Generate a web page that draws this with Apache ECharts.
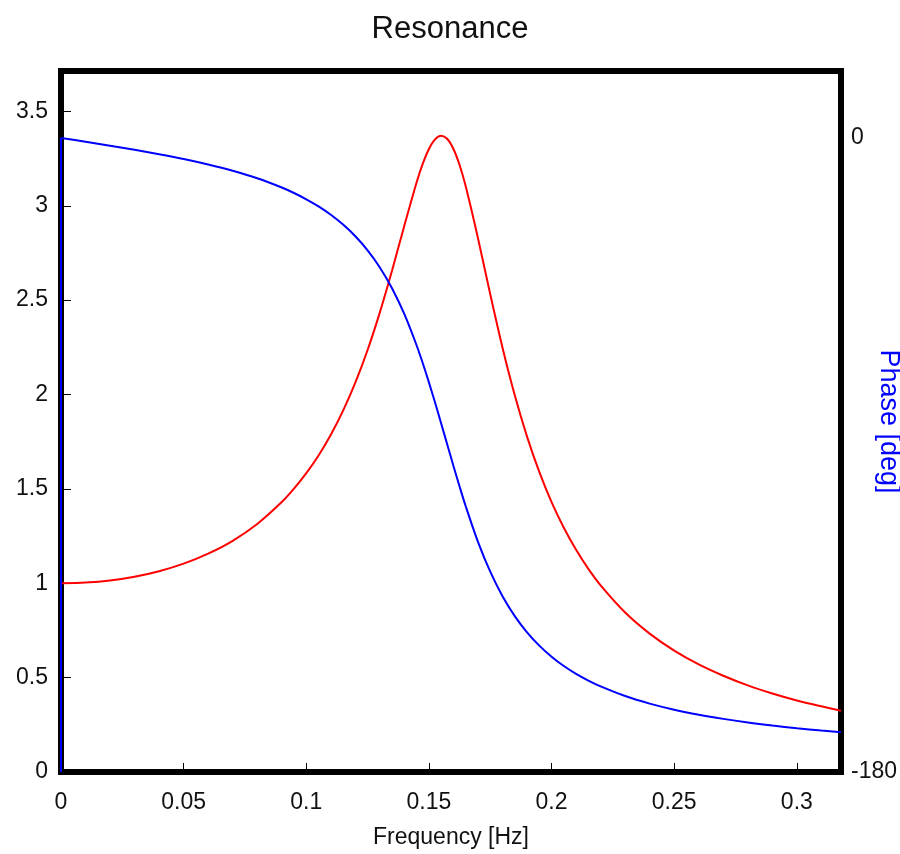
<!DOCTYPE html>
<html>
<head>
<meta charset="utf-8">
<script src="https://cdn.jsdelivr.net/npm/echarts@6/dist/echarts.min.js"></script>
<style>
  html, body { margin: 0; padding: 0; background: #fff; }
  #chart { width: 900px; height: 854px; }
</style>
</head>
<body>
<div id="chart"></div>
<script>
// Frequency samples [Hz]
const freq = [0, 0.01, 0.02, 0.03, 0.04, 0.05, 0.06, 0.07, 0.08, 0.09, 0.095, 0.10, 0.105, 0.11, 0.115, 0.12, 0.125, 0.13, 0.135, 0.14, 0.145, 0.1475, 0.15, 0.1525, 0.155, 0.1575, 0.16, 0.1625, 0.165, 0.17, 0.175, 0.18, 0.185, 0.19, 0.195, 0.20, 0.205, 0.21, 0.215, 0.22, 0.23, 0.24, 0.25, 0.26, 0.27, 0.28, 0.29, 0.30, 0.31, 0.318];
// Amplitude (left axis), red
const amplitude = [1, 1.004, 1.015, 1.035, 1.064, 1.104, 1.157, 1.225, 1.314, 1.430, 1.501, 1.583, 1.677, 1.787, 1.915, 2.063, 2.236, 2.435, 2.658, 2.896, 3.125, 3.223, 3.301, 3.352, 3.371, 3.354, 3.301, 3.216, 3.103, 2.828, 2.531, 2.248, 1.996, 1.777, 1.590, 1.430, 1.294, 1.177, 1.076, 0.989, 0.845, 0.733, 0.643, 0.570, 0.510, 0.459, 0.416, 0.379, 0.348, 0.325];
// Phase [deg] (right axis), blue
const phase = [0, -1.09, -2.20, -3.37, -4.62, -5.99, -7.54, -9.33, -11.46, -14.08, -15.64, -17.41, -19.44, -21.81, -24.60, -27.91, -31.90, -36.76, -42.72, -50.04, -58.92, -63.97, -69.39, -75.12, -81.06, -87.10, -93.11, -98.97, -104.55, -114.65, -123.14, -130.09, -135.74, -140.35, -144.13, -147.27, -149.91, -152.14, -154.05, -155.71, -158.44, -160.58, -162.31, -163.73, -164.92, -165.94, -166.81, -167.57, -168.24, -168.72];
// Phase jump drawn at f = 0 (vertical blue segment along the left edge)
const jumpFreq = [0, 0];
const jumpPhase = [-180, 0];

// Tick labels
const xTicks = [0, 0.05, 0.1, 0.15, 0.2, 0.25, 0.3];
const yLeftTicks = [0, 0.5, 1, 1.5, 2, 2.5, 3, 3.5];
const yRightTicks = [-180, 0];

const ampData = freq.map((f, i) => [f, amplitude[i]]);
const phaseData = freq.map((f, i) => [f, phase[i]]);
const jumpData = jumpFreq.map((f, i) => [f, jumpPhase[i]]);

const FONT = 'Liberation Sans, Arial, Helvetica, sans-serif';
const chart = echarts.init(document.getElementById('chart'), null, { renderer: 'canvas' });

chart.setOption({
  animation: false,
  backgroundColor: '#ffffff',
  title: {
    text: 'Resonance',
    left: 'center',
    top: 9,
    textStyle: { fontFamily: FONT, fontSize: 31, fontWeight: 'normal', color: '#111' }
  },
  grid: {
    left: 61, right: 59, top: 71, bottom: 82,
    outerBoundsMode: 'none',
    containLabel: false,
    show: true,
    borderColor: '#000',
    borderWidth: 6,
    backgroundColor: '#fff'
  },
  xAxis: {
    type: 'value',
    min: 0,
    max: 0.318,
    interval: 0.05,
    name: 'Frequency [Hz]',
    nameLocation: 'middle',
    nameGap: 54,
    nameMoveOverlap: false,
    nameTextStyle: { fontFamily: FONT, fontSize: 23, color: '#111' },
    axisLine: { show: false },
    splitLine: { show: false },
    axisTick: { show: true, inside: true, length: 9, lineStyle: { color: '#000', width: 1 }, customValues: xTicks },
    axisLabel: { fontFamily: FONT, fontSize: 23, color: '#111', margin: 19, customValues: xTicks,
      formatter: v => String(+v.toFixed(2)) }
  },
  yAxis: [
    {
      type: 'value',
      position: 'left',
      min: 0,
      max: 3.714,
      interval: 0.5,
      axisLine: { show: false },
      splitLine: { show: false },
      axisTick: { show: true, inside: true, length: 10, lineStyle: { color: '#000', width: 1 }, customValues: yLeftTicks },
      axisLabel: { fontFamily: FONT, fontSize: 23, color: '#111', margin: 13, customValues: yLeftTicks,
        formatter: v => String(+v.toFixed(1)) }
    },
    {
      type: 'value',
      position: 'right',
      min: -180,
      max: 19,
      interval: 180,
      name: 'Phase [deg]',
      nameLocation: 'middle',
      nameRotate: -90,
      nameGap: 34,
      nameMoveOverlap: false,
      nameTextStyle: { fontFamily: FONT, fontSize: 27, color: '#0000ff' },
      axisLine: { show: false },
      splitLine: { show: false },
      axisTick: { show: false },
      axisLabel: { fontFamily: FONT, fontSize: 23, color: '#111', margin: 10, customValues: yRightTicks }
    }
  ],
  series: [
    {
      type: 'line',
      name: 'Amplitude',
      xAxisIndex: 0,
      yAxisIndex: 0,
      data: ampData,
      showSymbol: false,
      symbol: 'none',
      smooth: 0.3,
      lineStyle: { color: '#ff0000', width: 2 },
      z: 3
    },
    {
      type: 'line',
      name: 'Phase',
      xAxisIndex: 0,
      yAxisIndex: 1,
      data: phaseData,
      showSymbol: false,
      symbol: 'none',
      smooth: 0.3,
      lineStyle: { color: '#0000ff', width: 2 },
      z: 4
    },
    {
      type: 'line',
      name: 'PhaseJump',
      xAxisIndex: 0,
      yAxisIndex: 1,
      data: jumpData,
      showSymbol: false,
      symbol: 'none',
      lineStyle: { color: '#0000ff', width: 2 },
      z: 4
    }
  ]
});
</script>
</body>
</html>
